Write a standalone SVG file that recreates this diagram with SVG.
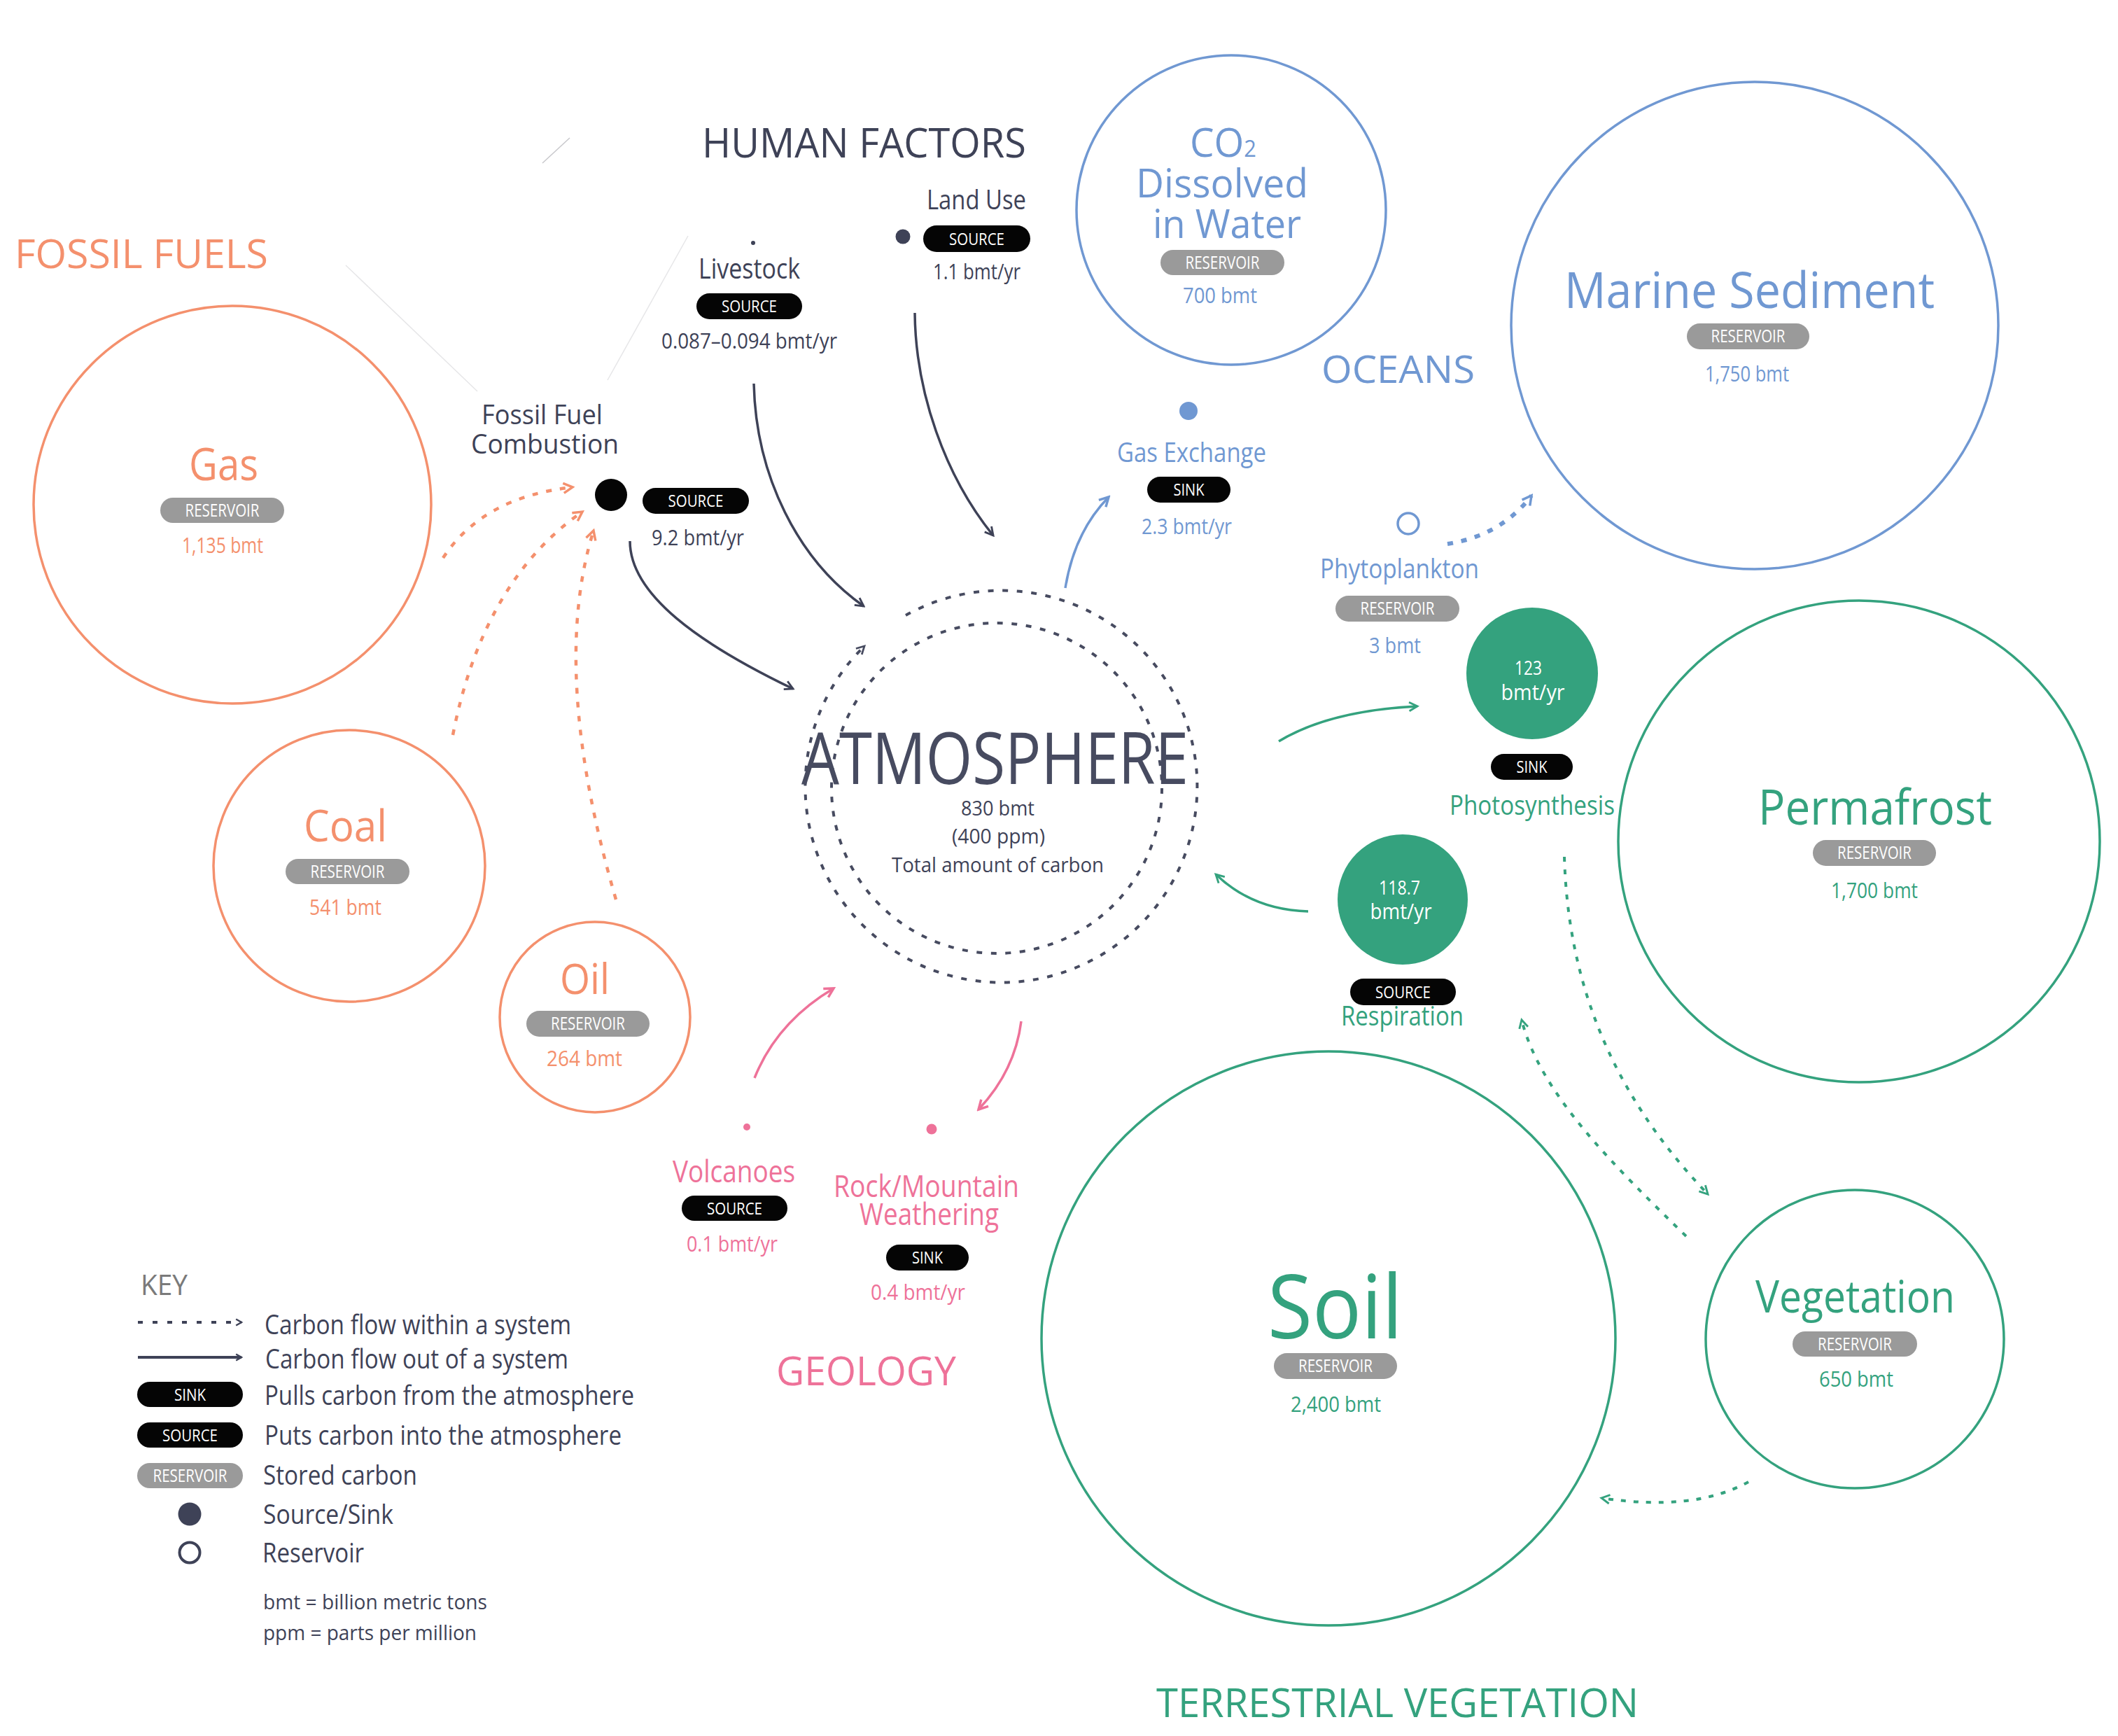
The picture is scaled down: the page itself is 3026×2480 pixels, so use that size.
<svg xmlns="http://www.w3.org/2000/svg" width="3026" height="2480" viewBox="0 0 3026 2480">
<style>
text{font-family:"Open Sans","Noto Sans","DejaVu Sans",sans-serif;text-anchor:middle}
.l{text-anchor:start}
.dk{fill:#3e4257}
.or{fill:#f4906d}
.bl{fill:#7098d2}
.gr{fill:#34a27e}
.pk{fill:#ee7299}
.wh{fill:#ffffff}
.ring{fill:none;stroke-width:3.5}
.pb{fill:#050505}
.pg{fill:#9a9a9a}
.pt{fill:#ffffff;font-size:24px}
.ptr{fill:#ffffff;font-size:25px}
.v{font-size:31px}
.lab{font-size:39px}
.c{fill:none;stroke-width:3.5;stroke-linecap:butt}
.cd{stroke:#3e4257}
.co{stroke:#f4906d;stroke-dasharray:8 12;stroke-width:4.5}
.cb{stroke:#7098d2}
.cbd{stroke:#7098d2;stroke-dasharray:8 12;stroke-width:6}
.cg{stroke:#34a27e}
.cgd{stroke:#34a27e;stroke-dasharray:7 11;stroke-width:4}
.cp{stroke:#ee7299}
.atm{fill:none;stroke:#474b60;stroke-width:4;stroke-dasharray:8 12.6}
.faint{stroke:#e6e6e8;stroke-width:1.5;fill:none}
</style>
<defs>
<marker id="ad" viewBox="0 0 20 20" refX="17" refY="10" markerUnits="userSpaceOnUse" markerWidth="18" markerHeight="18" orient="auto"><path d="M4,3 L17,10 L4,17" fill="none" stroke="#3e4257" stroke-width="3.2"/></marker>
<marker id="ao" viewBox="0 0 20 20" refX="17" refY="10" markerUnits="userSpaceOnUse" markerWidth="20" markerHeight="20" orient="auto"><path d="M4,3 L17,10 L4,17" fill="none" stroke="#f4906d" stroke-width="3.5"/></marker>
<marker id="ab" viewBox="0 0 20 20" refX="17" refY="10" markerUnits="userSpaceOnUse" markerWidth="20" markerHeight="20" orient="auto"><path d="M4,3 L17,10 L4,17" fill="none" stroke="#7098d2" stroke-width="3.5"/></marker>
<marker id="ag" viewBox="0 0 20 20" refX="17" refY="10" markerUnits="userSpaceOnUse" markerWidth="18" markerHeight="18" orient="auto"><path d="M4,3 L17,10 L4,17" fill="none" stroke="#34a27e" stroke-width="3.2"/></marker>
<marker id="ap" viewBox="0 0 20 20" refX="17" refY="10" markerUnits="userSpaceOnUse" markerWidth="20" markerHeight="20" orient="auto"><path d="M4,3 L17,10 L4,17" fill="none" stroke="#ee7299" stroke-width="3.5"/></marker>
<marker id="ak" viewBox="0 0 20 20" refX="17" refY="10" markerUnits="userSpaceOnUse" markerWidth="13" markerHeight="13" orient="auto"><path d="M5,3 L17,10 L5,17" fill="none" stroke="#3e4257" stroke-width="3.5"/></marker>
<marker id="aa" viewBox="0 0 20 20" refX="17" refY="10" markerUnits="userSpaceOnUse" markerWidth="17" markerHeight="17" orient="auto"><path d="M4,3 L17,10 L4,17" fill="none" stroke="#474b60" stroke-width="3.2"/></marker>
</defs>
<rect width="3026" height="2480" fill="#ffffff"/>

<g id="faint-lines">
<line class="faint" x1="494" y1="379" x2="682" y2="559"/>
<line class="faint" x1="983" y1="337" x2="868" y2="543"/>
<line x1="775" y1="233" x2="814" y2="197" stroke="#c8c8cc" stroke-width="1.5"/>
</g>

<g id="titles">
<text class="dk" x="1234.5" y="225" font-size="59" textLength="463" lengthAdjust="spacingAndGlyphs">HUMAN FACTORS</text>
<text class="or" x="202" y="383" font-size="57" textLength="362" lengthAdjust="spacingAndGlyphs">FOSSIL FUELS</text>
<text class="bl" x="1997.5" y="547" font-size="55" textLength="219" lengthAdjust="spacingAndGlyphs">OCEANS</text>
<text class="pk" x="1237.5" y="1979" font-size="56" textLength="257" lengthAdjust="spacingAndGlyphs">GEOLOGY</text>
<text class="gr" x="1996.5" y="2453" font-size="56" textLength="689" lengthAdjust="spacingAndGlyphs">TERRESTRIAL VEGETATION</text>
</g>

<g id="connectors">
<path class="c co" d="M633,797 Q690,710 818,696" marker-end="url(#ao)"/>
<path class="c co" d="M647,1050 Q690,830 832,731" marker-end="url(#ao)"/>
<path class="c co" d="M880,1285 Q785,960 848,758" marker-end="url(#ao)"/>
<path class="c cd" d="M1077,548 C1080,680 1140,800 1234,866" marker-end="url(#ad)"/>
<path class="c cd" d="M1307,447 C1308,560 1350,680 1419,765" marker-end="url(#ad)"/>
<path class="c cd" d="M900,773 C900,850 1000,920 1133,984" marker-end="url(#ad)"/>
<path class="c cb" d="M1522,840 Q1535,760 1584,710" marker-end="url(#ab)"/>
<path class="c cbd" d="M2068,777 Q2145,765 2188,708" marker-end="url(#ab)"/>
<path class="c cg" d="M1827,1059 Q1900,1015 2025,1009" marker-end="url(#ag)"/>
<path class="c cg" d="M1869,1302 Q1790,1300 1737,1249" marker-end="url(#ag)"/>
<path class="c cgd" d="M2235,1224 C2240,1400 2300,1560 2440,1706" marker-end="url(#ag)"/>
<path class="c cgd" d="M2409,1766 C2300,1660 2200,1560 2174,1457" marker-end="url(#ag)"/>
<path class="c cgd" d="M2498,2117 Q2420,2160 2288,2140" marker-end="url(#ag)"/>
<path class="c cp" d="M1078,1540 Q1110,1460 1191,1412" marker-end="url(#ap)"/>
<path class="c cp" d="M1459,1459 Q1450,1530 1398,1585" marker-end="url(#ap)"/>
</g>

<g id="gas">
<circle class="ring" cx="332" cy="721" r="284" stroke="#f4906d"/>
<text class="or" x="319.5" y="686" font-size="64" textLength="99" lengthAdjust="spacingAndGlyphs">Gas</text>
<rect class="pg" x="229" y="711" width="177" height="36" rx="18"/>
<text class="ptr" x="317.5" y="738" textLength="106" lengthAdjust="spacingAndGlyphs">RESERVOIR</text>
<text class="or v" x="318" y="790" textLength="116" lengthAdjust="spacingAndGlyphs">1,135 bmt</text>
</g>

<g id="coal">
<circle class="ring" cx="499" cy="1237" r="194" stroke="#f4906d"/>
<text class="or" x="493.5" y="1202" font-size="63" textLength="119" lengthAdjust="spacingAndGlyphs">Coal</text>
<rect class="pg" x="408" y="1227" width="177" height="36" rx="18"/>
<text class="ptr" x="496.5" y="1254" textLength="106" lengthAdjust="spacingAndGlyphs">RESERVOIR</text>
<text class="or v" x="493.5" y="1307" textLength="103" lengthAdjust="spacingAndGlyphs">541 bmt</text>
</g>

<g id="oil">
<circle class="ring" cx="850" cy="1453" r="136" stroke="#f4906d"/>
<text class="or" x="835.5" y="1420" font-size="60" textLength="71" lengthAdjust="spacingAndGlyphs">Oil</text>
<rect class="pg" x="752" y="1444" width="176" height="37" rx="18.5"/>
<text class="ptr" x="840" y="1471" textLength="106" lengthAdjust="spacingAndGlyphs">RESERVOIR</text>
<text class="or v" x="835" y="1523" textLength="108" lengthAdjust="spacingAndGlyphs">264 bmt</text>
</g>

<g id="fossil-fuel-combustion">
<text class="dk lab" x="774.5" y="606" font-size="40" textLength="173" lengthAdjust="spacingAndGlyphs">Fossil Fuel</text>
<text class="dk lab" x="778.5" y="648" font-size="40" textLength="211" lengthAdjust="spacingAndGlyphs">Combustion</text>
<circle cx="873" cy="707" r="23" fill="#050505"/>
<rect class="pb" x="918" y="697" width="152" height="37" rx="18.5"/>
<text class="pt" x="994" y="724" textLength="79" lengthAdjust="spacingAndGlyphs">SOURCE</text>
<text class="dk v" x="997" y="779" textLength="132" lengthAdjust="spacingAndGlyphs">9.2 bmt/yr</text>
</g>

<g id="livestock">
<circle cx="1076" cy="347" r="3" fill="#3e4257"/>
<text class="dk" x="1070.5" y="398" font-size="40" textLength="145" lengthAdjust="spacingAndGlyphs">Livestock</text>
<rect class="pb" x="995" y="419" width="151" height="37" rx="18.5"/>
<text class="pt" x="1070.5" y="446" textLength="79" lengthAdjust="spacingAndGlyphs">SOURCE</text>
<text class="dk v" x="1070.5" y="498" textLength="251" lengthAdjust="spacingAndGlyphs">0.087–0.094 bmt/yr</text>
</g>

<g id="land-use">
<text class="dk" x="1395" y="299" font-size="39" textLength="142" lengthAdjust="spacingAndGlyphs">Land Use</text>
<circle cx="1290" cy="338" r="10.5" fill="#3e4257"/>
<rect class="pb" x="1319" y="322" width="153" height="38" rx="19"/>
<text class="pt" x="1395.5" y="350" textLength="79" lengthAdjust="spacingAndGlyphs">SOURCE</text>
<text class="dk v" x="1395.5" y="399" textLength="125" lengthAdjust="spacingAndGlyphs">1.1 bmt/yr</text>
</g>

<g id="atmosphere">
<path class="atm" d="M1294,879 A280,280 0 1 1 1235,923" marker-end="url(#aa)"/>
<circle class="atm" cx="1424" cy="1126" r="236"/>
<text x="1421.5" y="1120" font-size="102" fill="#474b60" textLength="553" lengthAdjust="spacingAndGlyphs">ATMOSPHERE</text>
<text class="dk" x="1425.5" y="1165" font-size="30" textLength="105" lengthAdjust="spacingAndGlyphs">830 bmt</text>
<text class="dk" x="1426.5" y="1205" font-size="30" textLength="133" lengthAdjust="spacingAndGlyphs">(400 ppm)</text>
<text class="dk" x="1425.5" y="1246" font-size="30" textLength="303" lengthAdjust="spacingAndGlyphs">Total amount of carbon</text>
</g>

<g id="co2-dissolved">
<circle class="ring" cx="1759" cy="300" r="221" stroke="#7098d2"/>
<text class="bl" x="1747.5" y="224" font-size="57" textLength="95" lengthAdjust="spacingAndGlyphs">CO<tspan font-size="32">2</tspan></text>
<text class="bl" x="1746" y="282" font-size="57" textLength="246" lengthAdjust="spacingAndGlyphs">Dissolved</text>
<text class="bl" x="1753" y="340" font-size="57" textLength="212" lengthAdjust="spacingAndGlyphs">in Water</text>
<rect class="pg" x="1658" y="357" width="177" height="36" rx="18"/>
<text class="ptr" x="1746.5" y="384" textLength="106" lengthAdjust="spacingAndGlyphs">RESERVOIR</text>
<text class="bl v" x="1743" y="433" textLength="106" lengthAdjust="spacingAndGlyphs">700 bmt</text>
</g>

<g id="marine-sediment">
<circle class="ring" cx="2507" cy="465" r="348" stroke="#7098d2"/>
<text class="bl" x="2499.5" y="440" font-size="71" textLength="529" lengthAdjust="spacingAndGlyphs">Marine Sediment</text>
<rect class="pg" x="2410" y="462" width="175" height="37" rx="18.5"/>
<text class="ptr" x="2497.5" y="489" textLength="106" lengthAdjust="spacingAndGlyphs">RESERVOIR</text>
<text class="bl v" x="2496" y="545" textLength="120" lengthAdjust="spacingAndGlyphs">1,750 bmt</text>
</g>

<g id="gas-exchange">
<circle cx="1698" cy="587" r="13" fill="#7098d2"/>
<text class="bl lab" x="1702.5" y="660" textLength="213" lengthAdjust="spacingAndGlyphs">Gas Exchange</text>
<rect class="pb" x="1639" y="681" width="119" height="37" rx="18.5"/>
<text class="pt" x="1698.5" y="708" textLength="44" lengthAdjust="spacingAndGlyphs">SINK</text>
<text class="bl v" x="1695.5" y="763" textLength="129" lengthAdjust="spacingAndGlyphs">2.3 bmt/yr</text>
</g>

<g id="phytoplankton">
<circle cx="2012" cy="748" r="15" fill="none" stroke="#7098d2" stroke-width="3.5"/>
<text class="bl lab" x="1999.5" y="826" textLength="227" lengthAdjust="spacingAndGlyphs">Phytoplankton</text>
<rect class="pg" x="1908" y="851" width="177" height="37" rx="18.5"/>
<text class="ptr" x="1996.5" y="878" textLength="106" lengthAdjust="spacingAndGlyphs">RESERVOIR</text>
<text class="bl v" x="1993" y="933" textLength="74" lengthAdjust="spacingAndGlyphs">3 bmt</text>
</g>

<g id="photosynthesis">
<circle cx="2189" cy="962" r="94" fill="#34a27e"/>
<text class="wh" x="2183.5" y="964" font-size="28" textLength="39" lengthAdjust="spacingAndGlyphs">123</text>
<text class="wh" x="2190" y="1000" font-size="31" textLength="91" lengthAdjust="spacingAndGlyphs">bmt/yr</text>
<rect class="pb" x="2130" y="1077" width="117" height="37" rx="18.5"/>
<text class="pt" x="2188.5" y="1104" textLength="44" lengthAdjust="spacingAndGlyphs">SINK</text>
<text class="gr lab" x="2189" y="1164" textLength="236" lengthAdjust="spacingAndGlyphs">Photosynthesis</text>
</g>

<g id="permafrost">
<circle class="ring" cx="2656" cy="1202" r="344" stroke="#34a27e"/>
<text class="gr" x="2679" y="1178" font-size="69" textLength="334" lengthAdjust="spacingAndGlyphs">Permafrost</text>
<rect class="pg" x="2590" y="1200" width="176" height="37" rx="18.5"/>
<text class="ptr" x="2678" y="1227" textLength="106" lengthAdjust="spacingAndGlyphs">RESERVOIR</text>
<text class="gr v" x="2678" y="1283" textLength="124" lengthAdjust="spacingAndGlyphs">1,700 bmt</text>
</g>

<g id="respiration">
<circle cx="2004" cy="1285" r="93" fill="#34a27e"/>
<text class="wh" x="1999.5" y="1278" font-size="28" textLength="59" lengthAdjust="spacingAndGlyphs">118.7</text>
<text class="wh" x="2001.5" y="1313" font-size="31" textLength="88" lengthAdjust="spacingAndGlyphs">bmt/yr</text>
<rect class="pb" x="1929" y="1398" width="151" height="38" rx="19"/>
<text class="pt" x="2004.5" y="1426" textLength="79" lengthAdjust="spacingAndGlyphs">SOURCE</text>
<text class="gr lab" x="2003.5" y="1465" textLength="175" lengthAdjust="spacingAndGlyphs">Respiration</text>
</g>

<g id="soil">
<circle class="ring" cx="1898" cy="1912" r="410" stroke="#34a27e"/>
<text class="gr" x="1907.5" y="1912" font-size="127" textLength="193" lengthAdjust="spacingAndGlyphs">Soil</text>
<rect class="pg" x="1820" y="1933" width="176" height="37" rx="18.5"/>
<text class="ptr" x="1908" y="1960" textLength="106" lengthAdjust="spacingAndGlyphs">RESERVOIR</text>
<text class="gr v" x="1908.5" y="2017" textLength="129" lengthAdjust="spacingAndGlyphs">2,400 bmt</text>
</g>

<g id="vegetation">
<circle class="ring" cx="2650" cy="1913" r="213" stroke="#34a27e"/>
<text class="gr" x="2650.5" y="1875" font-size="64" textLength="285" lengthAdjust="spacingAndGlyphs">Vegetation</text>
<rect class="pg" x="2561" y="1902" width="178" height="36" rx="18"/>
<text class="ptr" x="2650" y="1929" textLength="106" lengthAdjust="spacingAndGlyphs">RESERVOIR</text>
<text class="gr v" x="2652" y="1981" textLength="106" lengthAdjust="spacingAndGlyphs">650 bmt</text>
</g>

<g id="volcanoes">
<circle cx="1067" cy="1610" r="5" fill="#ee7299"/>
<text class="pk" x="1048.5" y="1689" font-size="44" textLength="175" lengthAdjust="spacingAndGlyphs">Volcanoes</text>
<rect class="pb" x="974" y="1708" width="151" height="36" rx="18"/>
<text class="pt" x="1049.5" y="1735" textLength="79" lengthAdjust="spacingAndGlyphs">SOURCE</text>
<text class="pk v" x="1046" y="1788" textLength="130" lengthAdjust="spacingAndGlyphs">0.1 bmt/yr</text>
</g>

<g id="rock-weathering">
<circle cx="1331" cy="1613" r="7.5" fill="#ee7299"/>
<text class="pk" x="1323.5" y="1710" font-size="44" textLength="265" lengthAdjust="spacingAndGlyphs">Rock/Mountain</text>
<text class="pk" x="1327.5" y="1750" font-size="44" textLength="199" lengthAdjust="spacingAndGlyphs">Weathering</text>
<rect class="pb" x="1266" y="1778" width="118" height="37" rx="18.5"/>
<text class="pt" x="1325" y="1805" textLength="44" lengthAdjust="spacingAndGlyphs">SINK</text>
<text class="pk v" x="1311.5" y="1857" textLength="135" lengthAdjust="spacingAndGlyphs">0.4 bmt/yr</text>
</g>

<g id="key">
<text class="l" x="201" y="1850" font-size="40" fill="#7a7a7a" textLength="67" lengthAdjust="spacingAndGlyphs">KEY</text>
<path d="M197,1889 H345" fill="none" stroke="#3e4257" stroke-width="4" stroke-dasharray="7 14" marker-end="url(#ak)"/>
<path d="M197,1939 H345" fill="none" stroke="#3e4257" stroke-width="4" marker-end="url(#ak)"/>
<rect class="pb" x="196" y="1974" width="151" height="36" rx="18"/>
<text class="pt" x="271.5" y="2001" textLength="45" lengthAdjust="spacingAndGlyphs">SINK</text>
<rect class="pb" x="196" y="2032" width="151" height="36" rx="18"/>
<text class="pt" x="271.5" y="2059" textLength="79" lengthAdjust="spacingAndGlyphs">SOURCE</text>
<rect class="pg" x="196" y="2090" width="151" height="36" rx="18"/>
<text class="ptr" x="271.5" y="2117" textLength="106" lengthAdjust="spacingAndGlyphs">RESERVOIR</text>
<circle cx="271" cy="2163" r="16.5" fill="#3e4257"/>
<circle cx="271" cy="2218" r="14.5" fill="none" stroke="#3e4257" stroke-width="4"/>
<text class="dk l lab" x="378" y="1906" textLength="438" lengthAdjust="spacingAndGlyphs">Carbon flow within a system</text>
<text class="dk l lab" x="379" y="1955" textLength="433" lengthAdjust="spacingAndGlyphs">Carbon flow out of a system</text>
<text class="dk l lab" x="378" y="2007" textLength="528" lengthAdjust="spacingAndGlyphs">Pulls carbon from the atmosphere</text>
<text class="dk l lab" x="378" y="2064" textLength="510" lengthAdjust="spacingAndGlyphs">Puts carbon into the atmosphere</text>
<text class="dk l lab" x="376" y="2121" textLength="220" lengthAdjust="spacingAndGlyphs">Stored carbon</text>
<text class="dk l lab" x="376" y="2177" textLength="186" lengthAdjust="spacingAndGlyphs">Source/Sink</text>
<text class="dk l lab" x="375" y="2232" textLength="145" lengthAdjust="spacingAndGlyphs">Reservoir</text>
<text class="dk l" x="376" y="2299" font-size="30" textLength="320" lengthAdjust="spacingAndGlyphs">bmt = billion metric tons</text>
<text class="dk l" x="376" y="2343" font-size="30" textLength="305" lengthAdjust="spacingAndGlyphs">ppm = parts per million</text>
</g>
</svg>
